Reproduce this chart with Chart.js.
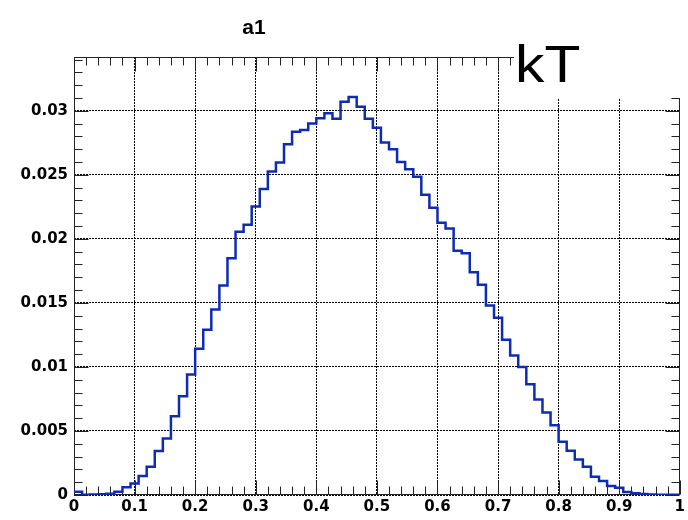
<!DOCTYPE html>
<html>
<head>
<meta charset="utf-8">
<script src="https://cdn.jsdelivr.net/npm/chart.js@4.4.1/dist/chart.umd.min.js"></script>
<style>
  html, body { margin: 0; padding: 0; background: #fff; }
  #wrap { width: 688px; height: 520px; }
</style>
</head>
<body>
<div id="wrap"><canvas id="histo" width="688" height="520"></canvas></div>
<script>
// histogram "a1" : 75 bins between 0 and 1
const nBins = 75;
const xMin = 0, xMax = 1;
const binValues = [
  0.00026, 0.00002, 0.00003, 0.00005, 0.0001, 0.00026, 0.0006, 0.0009, 0.00148, 0.0022,
  0.00343, 0.00441, 0.00615, 0.00771, 0.0094, 0.01142, 0.0129, 0.01449, 0.01636, 0.01848,
  0.02056, 0.0211, 0.02253, 0.02389, 0.02526, 0.02596, 0.02739, 0.02837, 0.0285, 0.029,
  0.02941, 0.0298, 0.02938, 0.03071, 0.03107, 0.03032, 0.02938, 0.02868, 0.02752, 0.027,
  0.026, 0.02544, 0.02485, 0.02344, 0.02243, 0.02126, 0.0208, 0.01908, 0.01887, 0.01739,
  0.01641, 0.0148, 0.01384, 0.01213, 0.0109, 0.01, 0.00864, 0.00745, 0.00644, 0.00545,
  0.00415, 0.00345, 0.00278, 0.0022, 0.00143, 0.00109, 0.0007, 0.00057, 0.00023, 0.00013,
  0.00008, 0.00003, 0.00002, 0.00002, 0.00002
];

const xTickValues = [0, 0.1, 0.2, 0.3, 0.4, 0.5, 0.6, 0.7, 0.8, 0.9, 1];
const xTickLabels = ['0', '0.1', '0.2', '0.3', '0.4', '0.5', '0.6', '0.7', '0.8', '0.9', '1'];
const yTickValues = [0, 0.005, 0.01, 0.015, 0.02, 0.025, 0.03];
const yTickLabels = ['0', '0.005', '0.01', '0.015', '0.02', '0.025', '0.03'];
const yMax = 0.0342;
const xMinorStep = 0.02, yMinorStep = 0.001;

const titleText = 'a1';
const cornerText = 'kT';

// step points: left edge of every bin + closing point at the right edge
const binWidth = (xMax - xMin) / nBins;
const stepPoints = binValues.map((v, i) => ({ x: xMin + i * binWidth, y: v }));
stepPoints.push({ x: xMax, y: binValues[binValues.length - 1] });

const tickFont = { family: 'DejaVu Sans', weight: 'bold', size: 15 };

// ROOT-like frame: box + inward major/minor ticks on all four sides
const rootFrame = {
  id: 'rootFrame',
  beforeDatasetsDraw(chart) {
    const { ctx, chartArea: a, scales: { x, y } } = chart;
    const L = Math.round(a.left) + 0.5, R = Math.round(a.right) - 0.5;
    const T = Math.round(a.top) + 0.5, B = Math.round(a.bottom) - 0.5;
    ctx.save();
    ctx.strokeStyle = '#222';
    ctx.lineWidth = 1;
    ctx.strokeRect(L, T, R - L, B - T);
    ctx.beginPath();
    // x ticks
    for (let k = 0; xMin + k * xMinorStep <= xMax + 1e-9; k++) {
      const v = xMin + k * xMinorStep;
      const px = Math.round(x.getPixelForValue(v)) + 0.5;
      const major = xTickValues.some(t => Math.abs(t - v) < 1e-9);
      const len = major ? 14 : 8;
      ctx.moveTo(px, B); ctx.lineTo(px, B - len);
      ctx.moveTo(px, T); ctx.lineTo(px, T + len);
    }
    // y ticks
    for (let k = 0; k * yMinorStep <= yMax + 1e-9; k++) {
      const v = k * yMinorStep;
      const py = Math.round(y.getPixelForValue(v)) + 0.5;
      const major = yTickValues.some(t => Math.abs(t - v) < 1e-9);
      const len = major ? 14 : 8;
      ctx.moveTo(L, py); ctx.lineTo(L + len, py);
      ctx.moveTo(R, py); ctx.lineTo(R - len, py);
    }
    ctx.stroke();
    ctx.restore();
  },
  afterDraw(chart) {
    const { ctx } = chart;
    ctx.save();
    // title
    ctx.fillStyle = '#000';
    ctx.font = 'bold 21px "Liberation Sans", Arial, sans-serif';
    ctx.textAlign = 'center';
    ctx.textBaseline = 'middle';
    ctx.fillText(titleText, 254, 28);
    // corner label on a white box
    ctx.fillStyle = '#fff';
    ctx.fillRect(514, 38, 688 - 514, 60);
    ctx.fillStyle = '#000';
    ctx.font = '52px "Liberation Sans", Arial, sans-serif';
    ctx.textAlign = 'left';
    ctx.textBaseline = 'alphabetic';
    ctx.translate(515, 82);
    ctx.scale(1.13, 1);
    ctx.fillText(cornerText, 0, 0);
    ctx.restore();
  }
};

new Chart(document.getElementById('histo'), {
  type: 'line',
  data: {
    datasets: [{
      label: titleText,
      data: stepPoints,
      stepped: 'before',
      borderColor: '#0d2bb4',
      borderWidth: 2.5,
      pointRadius: 0,
      fill: false,
      tension: 0
    }]
  },
  options: {
    responsive: false,
    animation: false,
    devicePixelRatio: 1,
    layout: { padding: { top: 57, right: 6, left: 0, bottom: 0 } },
    plugins: { legend: { display: false }, title: { display: false }, tooltip: { enabled: false } },
    scales: {
      x: {
        type: 'linear',
        min: xMin,
        max: xMax,
        afterBuildTicks: s => { s.ticks = xTickValues.map(v => ({ value: v })); },
        afterFit: s => { s.height = 25; },
        ticks: {
          callback: (v, i) => xTickLabels[i],
          font: tickFont,
          color: '#000',
          padding: 3,
          maxRotation: 0,
          autoSkip: false
        },
        grid: { color: '#000', lineWidth: 1, drawTicks: false },
        border: { display: false, dash: [2, 1] }
      },
      y: {
        type: 'linear',
        min: 0,
        max: yMax,
        afterBuildTicks: s => { s.ticks = yTickValues.map(v => ({ value: v })); },
        afterFit: s => { s.width = 74; },
        ticks: {
          callback: (v, i) => yTickLabels[i],
          font: tickFont,
          color: '#000',
          padding: 6,
          autoSkip: false
        },
        grid: { color: '#000', lineWidth: 1, drawTicks: false },
        border: { display: false, dash: [2, 1] }
      }
    }
  },
  plugins: [rootFrame]
});
</script>
</body>
</html>
